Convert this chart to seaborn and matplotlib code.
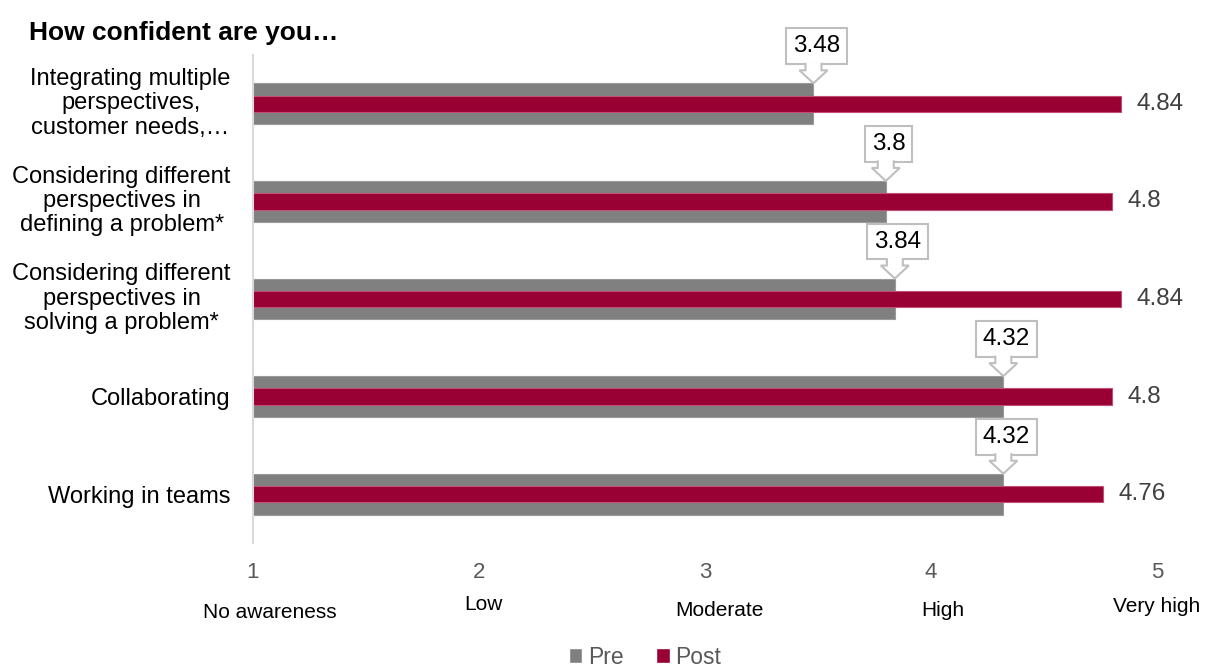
import matplotlib
matplotlib.use("Agg")
import matplotlib.pyplot as plt
import matplotlib.transforms as mtransforms
from matplotlib.patches import Polygon, Patch
import seaborn as sns
import pandas as pd

# data
categories = [
    "Integrating multiple\nperspectives,\ncustomer needs,…",
    "Considering different\nperspectives in\ndefining a problem*",
    "Considering different\nperspectives in\nsolving a problem*",
    "Collaborating",
    "Working in teams",
]
pre_values = [3.48, 3.8, 3.84, 4.32, 4.32]
post_values = [4.84, 4.8, 4.84, 4.8, 4.76]
scale_ticks = [1, 2, 3, 4, 5]
scale_labels = ["No awareness", "Low", "Moderate", "High", "Very high"]
series_names = ["Pre", "Post"]
title = "How confident are you…"

PRE_COLOR = "#808080"
POST_COLOR = "#990033"
TEXT_GREY = "#595959"

sns.set_theme(style="white")
plt.rcParams["font.family"] = ["Liberation Sans", "DejaVu Sans"]

df = pd.DataFrame({"label": categories, "Pre": pre_values, "Post": post_values})

fig = plt.figure(figsize=(12.11, 6.68), dpi=100)
ax = fig.add_axes([253 / 1211, 1 - 543 / 668, (1157 - 253) / 1211, (543 - 55) / 668])

pre_w, post_w = 0.42, 0.17
sns.barplot(data=df, x="Pre", y="label", orient="h", width=pre_w, color=PRE_COLOR,
            saturation=1, errorbar=None, edgecolor="#9a9a9a", linewidth=0.8, ax=ax)
sns.barplot(data=df, x="Post", y="label", orient="h", width=post_w, color=POST_COLOR,
            saturation=1, errorbar=None, edgecolor="#c0506f", linewidth=0.8, ax=ax)

ax.set_xlim(1, 5)
ax.set_ylim(len(categories) - 0.5, -0.5)
ax.set_xlabel("")
ax.set_ylabel("")
ax.set_xticks(scale_ticks)
ax.set_xticklabels([str(t) for t in scale_ticks], fontsize=16, color=TEXT_GREY)
ax.tick_params(axis="x", length=0, pad=14)
ax.tick_params(axis="y", length=0, pad=16)
lift = mtransforms.ScaledTranslation(0, 4 / 100, fig.dpi_scale_trans)
for lab in ax.get_yticklabels():
    lab.set_fontsize(17)
    lab.set_color("black")
    lab.set_multialignment("center")
    lab.set_linespacing(1.13)
    if "\n" in lab.get_text():
        lab.set_transform(lab.get_transform() + lift)

for s in ["top", "right", "bottom"]:
    ax.spines[s].set_visible(False)
ax.spines["left"].set_color("#d9d9d9")
ax.spines["left"].set_linewidth(1.5)

# post value labels
for i, v in enumerate(post_values):
    ax.annotate(f"{v:g}", xy=(v, i), xytext=(16, 0), textcoords="offset pixels",
                ha="left", va="center", fontsize=17.5, color="#404040", annotation_clip=False)

# pre value callouts (box with a down arrow)
arrow = [(-8, 20.5), (-8, 13), (-14, 13), (0, 0), (14, 13), (8, 13), (8, 20.5)]
for i, v in enumerate(pre_values):
    top = i - pre_w / 2
    ax.annotate(f"{v:g}", xy=(v, top), xytext=(3, 19 + 7), textcoords="offset pixels",
                ha="center", va="bottom", fontsize=17.5, color="black", zorder=5,
                bbox=dict(boxstyle="square,pad=0.28", fc="white", ec="#bfbfbf", lw=1.5),
                annotation_clip=False)
    tr = mtransforms.Affine2D() + mtransforms.ScaledTranslation(v, top, ax.transData)
    ax.add_patch(Polygon(arrow, closed=False, fc="white", ec="#bfbfbf", lw=1.5,
                         transform=tr, zorder=6, clip_on=False))

# verbal scale under the numbers
nudges = [(17, -69), (4, -62), (14, -67), (12, -67), (0, -64)]
for t, lab, (dx, dy) in zip(scale_ticks, scale_labels, nudges):
    ax.annotate(lab, xy=(t, 1), xycoords=("data", "axes fraction"), xytext=(dx, dy - 488),
                textcoords="offset pixels", ha="center", va="center", fontsize=15,
                color="black", annotation_clip=False)

fig.text(29 / 1211, 1 - 33 / 668, title, ha="left", va="center", fontsize=19,
         fontweight="bold", color="black")

handles = [Patch(facecolor=PRE_COLOR), Patch(facecolor=POST_COLOR)]
fig.legend(handles, series_names, loc="center", bbox_to_anchor=(645 / 1211, 1 - 657 / 668),
           ncol=2, frameon=False, fontsize=16.5, labelcolor=TEXT_GREY,
           handlelength=0.6, handleheight=0.6, handletextpad=0.25, columnspacing=1.4)

fig.savefig("out.png", dpi=100)
